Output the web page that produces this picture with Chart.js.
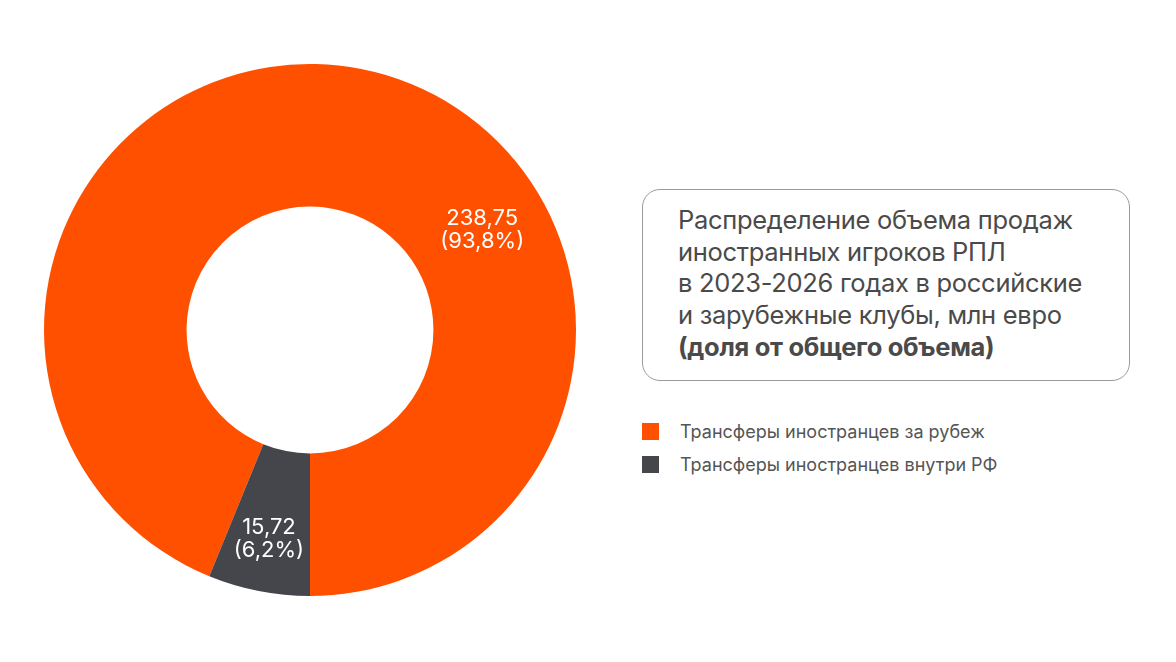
<!DOCTYPE html>
<html lang="ru">
<head>
<meta charset="utf-8">
<script src="https://cdn.jsdelivr.net/npm/chart.js@4.4.1/dist/chart.umd.min.js"></script>
<style>
  html, body { margin: 0; padding: 0; background: #fff; }
  body { width: 1176px; height: 662px; position: relative; overflow: hidden; font-family: Inter, "Noto Sans", sans-serif; }
  #chartWrap { position: absolute; left: 44px; top: 64px; width: 532px; height: 532px; }
  #titleBox {
    position: absolute; left: 642px; top: 189px; width: 488px; height: 192px;
    border: 1px solid #9a9a9a; border-radius: 18px; box-sizing: border-box;
    padding: 14px 0 0 35px; color: #4a4a4a; font-size: 25.5px; line-height: 31.7px; letter-spacing: -0.3px;
  }
  #titleBox b { font-weight: 700; }
  #legend { position: absolute; left: 642px; top: 415px; }
  .item { display: flex; align-items: center; height: 33px; font-size: 18px; color: #555; }
  .box { width: 17px; height: 17px; margin-right: 21px; }
</style>
</head>
<body>
<div id="chartWrap"><canvas id="donut"></canvas></div>
<div id="titleBox">Распределение объема продаж<br>иностранных игроков РПЛ<br>в 2023-2026 годах в российские<br>и зарубежные клубы, млн евро<br><b>(доля от общего объема)</b></div>
<div id="legend"></div>
<script>
const categories = ['Трансферы иностранцев за рубеж', 'Трансферы иностранцев внутри РФ'];
const values = [238.75, 15.72];
const shares = ['93,8%', '6,2%'];
const colors = ['#FF5000', '#45464B'];

// legend
let html = '';
for (let i = 0; i < categories.length; i++) {
    html += "<div class='item'><div class='box' style='background:" + colors[i] + "'></div>" + categories[i] + "</div>";
}
document.getElementById('legend').innerHTML = html;

const total = values.reduce((a, b) => a + b, 0);
// dark slice starts straight down
const rotation = 180 - 360 * values[0] / total;

// label spots: angle from top (clockwise, deg) and fraction of outer radius
// null angle = middle of the slice
const labelSpots = [{ angle: 59.7, r: 0.75 }, { angle: null, r: 0.8 }];

const sliceLabels = {
    id: 'sliceLabels',
    afterDatasetsDraw(chart) {
        const ctx = chart.ctx;
        const arcs = chart.getDatasetMeta(0).data;
        ctx.save();
        ctx.fillStyle = '#fff';
        ctx.font = '400 22px Inter';
        ctx.textAlign = 'center';
        ctx.textBaseline = 'middle';
        arcs.forEach(function(arc, i) {
            const p = arc.getProps(['x', 'y', 'startAngle', 'endAngle', 'outerRadius'], true);
            let a;
            if (labelSpots[i].angle === null) {
                a = (p.startAngle + p.endAngle) / 2 + Math.PI / 2; // canvas angle -> from top
            } else {
                a = labelSpots[i].angle * Math.PI / 180;
            }
            const rr = p.outerRadius * labelSpots[i].r;
            const x = p.x + rr * Math.sin(a);
            const y = p.y - rr * Math.cos(a);
            ctx.fillText(values[i].toFixed(2).replace('.', ','), x, y - 11);
            ctx.fillText('(' + shares[i] + ')', x, y + 12);
        });
        ctx.restore();
    }
};

new Chart(document.getElementById('donut'), {
    type: 'doughnut',
    data: {
        labels: categories,
        datasets: [{
            data: values,
            backgroundColor: colors,
            borderWidth: 0
        }]
    },
    options: {
        responsive: true,
        maintainAspectRatio: false,
        animation: false,
        cutout: '46.4%',
        rotation: rotation,
        layout: { padding: 0 },
        plugins: {
            legend: { display: false },
            tooltip: { enabled: false }
        }
    },
    plugins: [sliceLabels]
});
</script>
</body>
</html>
